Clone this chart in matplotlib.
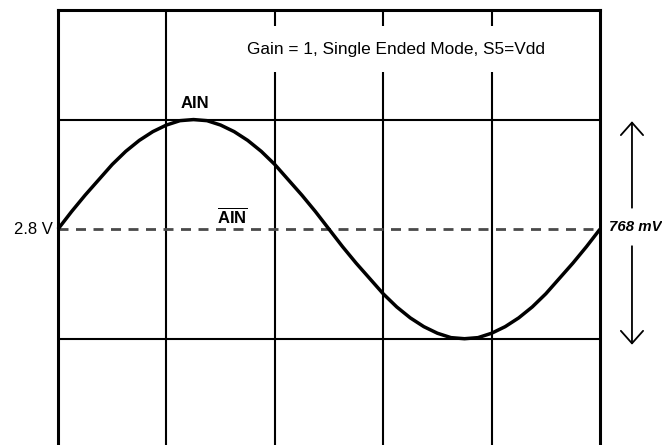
import matplotlib
matplotlib.use("Agg")
import matplotlib.pyplot as plt

plt.rcParams['font.family'] = ['Liberation Sans', 'DejaVu Sans']
plt.rcParams['mathtext.fontset'] = 'custom'
plt.rcParams['mathtext.bf'] = 'Liberation Sans:bold'
plt.rcParams['mathtext.rm'] = 'Liberation Sans'

# waveform (divisions, centre line = 0)
wave_x = [0.0, 0.125, 0.25, 0.375, 0.5, 0.625, 0.75, 0.875, 1.0, 1.125,
          1.25, 1.375, 1.5, 1.625, 1.75, 1.875, 2.0, 2.125, 2.25, 2.375,
          2.5, 2.625, 2.75, 2.875, 3.0, 3.125, 3.25, 3.375, 3.5, 3.625,
          3.75, 3.875, 4.0, 4.125, 4.25, 4.375, 4.5, 4.625, 4.75, 4.875, 5.0]
wave_y = [0.0, 0.16, 0.31, 0.45, 0.59, 0.71, 0.81, 0.89, 0.95, 0.99,
          1.0, 0.99, 0.95, 0.89, 0.81, 0.71, 0.59, 0.45, 0.31, 0.16,
          0.0, -0.16, -0.31, -0.45, -0.59, -0.71, -0.81, -0.89, -0.95, -0.99,
          -1.0, -0.99, -0.95, -0.89, -0.81, -0.71, -0.59, -0.45, -0.31, -0.16, 0.0]

grid_x = [1, 2, 3, 4]
grid_y = [1, -1]
center_level = 0

title_txt = "Gain = 1, Single Ended Mode, S5=Vdd"
offset_label = "2.8 V"
span_label = "768 mV"

fig = plt.figure(figsize=(6.62, 4.45), dpi=100)
ax = fig.add_axes([58 / 662, 0, 542 / 662, 1 - 10 / 445])
ax.set_xlim(0, 5)
ax.set_ylim(-1.97, 2)
ax.set_xticks([])
ax.set_yticks([])
for side in ['left', 'right', 'top']:
    ax.spines[side].set_linewidth(2.2)
ax.spines['bottom'].set_visible(False)

for gx in grid_x:
    ax.axvline(gx, color='black', lw=1.5, zorder=1)
for gy in grid_y:
    ax.axhline(gy, color='black', lw=1.5, zorder=1)
ax.axhline(center_level, color='#4a4a4a', lw=2, dashes=(3.6, 2.7), zorder=1)

ax.plot(wave_x, wave_y, color='black', lw=2.5, zorder=3, clip_on=False,
        solid_capstyle='butt')

ax.text(3.12, 1.64, title_txt, fontsize=12.4, ha='center', va='center',
        bbox=dict(boxstyle='square,pad=0.9', fc='white', ec='none'), zorder=2)
ax.text(1.26, 1.15, "AIN", fontsize=12, fontweight='bold', ha='center', va='center')
ax.text(1.61, 0.12, r'$\overline{\mathbf{AIN}}$', fontsize=12, ha='center', va='center')
ax.text(-0.05, 0.0, offset_label, fontsize=12, ha='right', va='center', clip_on=False)

arrow = dict(arrowstyle='->,head_length=0.9,head_width=0.8', color='black', lw=1.3)
ax.annotate('', xy=(5.295, 1.01), xytext=(5.295, 0.17), arrowprops=arrow,
            annotation_clip=False)
ax.annotate('', xy=(5.295, -1.08), xytext=(5.295, -0.13), arrowprops=arrow,
            annotation_clip=False)
ax.text(5.33, 0.02, span_label, fontsize=10.8, fontweight='bold', style='italic',
        ha='center', va='center', clip_on=False)

fig.savefig("out.png", dpi=100)
